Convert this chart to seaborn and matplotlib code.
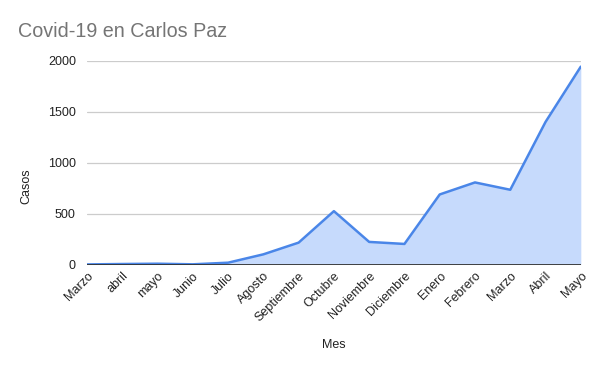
import matplotlib
matplotlib.use("Agg")
import matplotlib.pyplot as plt
import seaborn as sns
import pandas as pd
import numpy as np

meses = ["Marzo", "abril", "mayo", "Junio", "Julio", "Agosto", "Septiembre", "Octubre",
         "Noviembre", "Diciembre", "Enero", "Febrero", "Marzo", "Abril", "Mayo"]
casos = [1, 5, 8, 2, 18, 100, 215, 524, 222, 202, 688, 806, 734, 1400, 1943]
yticks = [0, 500, 1000, 1500, 2000]

sns.set_theme(style="white")
plt.rcParams['font.family'] = ['Liberation Sans', 'DejaVu Sans']

df = pd.DataFrame({"idx": np.arange(len(meses)), "casos": casos})

fig = plt.figure(figsize=(6, 3.71), dpi=100)
ax = fig.add_axes([0.145, 0.287, 0.823, 0.549])

ax.fill_between(df["idx"], df["casos"], 0, color="#c6dafc", linewidth=0, zorder=1)
sns.lineplot(data=df, x="idx", y="casos", ax=ax, color="#4a86e8", linewidth=1.8, zorder=3)

ax.set_xlim(0, len(meses) - 1)
ax.set_ylim(0, 2000)
ax.set_yticks(yticks)
ax.set_yticklabels([str(v) for v in yticks], fontsize=9, color="#222222")
ax.set_xticks(df["idx"])
ax.set_xticklabels(meses, rotation=45, ha="right", rotation_mode="anchor", fontsize=9, color="#222222")
ax.tick_params(axis="x", length=0, pad=4)
ax.tick_params(axis="y", length=0, pad=8)
for v in yticks[1:]:
    ax.axhline(v, color="#cccccc", linewidth=0.9, zorder=0)
ax.axhline(0, color="#333333", linewidth=1.3, zorder=4)
for s in ax.spines.values():
    s.set_visible(False)

ax.set_xlabel("Mes", fontsize=9, color="#222222", labelpad=11)
ax.set_ylabel("Casos", fontsize=9, color="#222222")
ax.yaxis.set_label_coords(-0.111, 0.386)
fig.text(0.03, 0.915, "Covid-19 en Carlos Paz", fontsize=14.2, color="#757575", ha="left", va="center")

fig.savefig("out.png", dpi=100)
